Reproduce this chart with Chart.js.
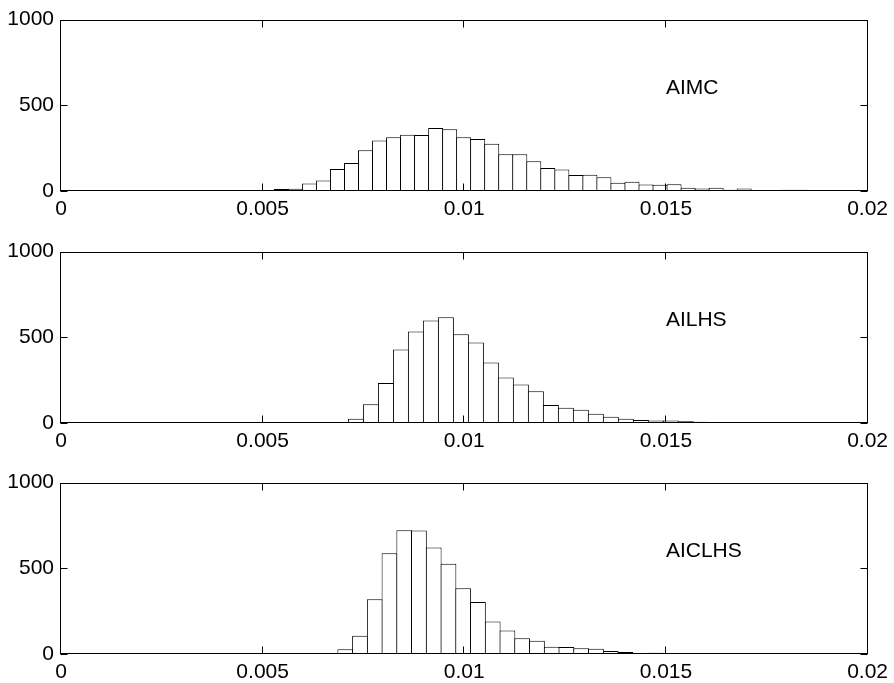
<!DOCTYPE html>
<html lang="en">
<head>
  <meta charset="UTF-8">
  <title>AIMC / AILHS / AICLHS histograms</title>
  <script src="https://cdn.jsdelivr.net/npm/chart.js"></script>
  <style>
    body {
      margin: 0;
      background: #fff;
      overflow: hidden;
    }
    .panel {
      position: absolute;
      left: 0;
    }
  </style>
</head>
<body>
  <canvas id="aimc" class="panel" width="894" height="232" style="top:0px"></canvas>
  <canvas id="ailhs" class="panel" width="894" height="232" style="top:232px"></canvas>
  <canvas id="aiclhs" class="panel" width="894" height="232" style="top:463px"></canvas>

  <script>
    const xTicks = [0, 0.005, 0.01, 0.015, 0.02];
    const yTicks = [0, 500, 1000];

    // bin centres and counts
    const aimcBins = [0.005464, 0.005812, 0.006160, 0.006507, 0.006855, 0.007203, 0.007551, 0.007899,
      0.008246, 0.008594, 0.008942, 0.009290, 0.009638, 0.009985, 0.010333, 0.010681, 0.011029,
      0.011377, 0.011724, 0.012072, 0.012420, 0.012768, 0.013116, 0.013463, 0.013811, 0.014159,
      0.014507, 0.014855, 0.015202, 0.015550, 0.015898, 0.016246, 0.016594, 0.016941, 0.017289,
      0.017637, 0.017985, 0.018333, 0.018680, 0.019028, 0.019376, 0.019724];
    const aimcCounts = [12, 13, 44, 61, 128, 164, 238, 295, 313, 328, 326, 368, 360, 314, 303, 276,
      214, 215, 174, 134, 126, 94, 95, 80, 48, 54, 38, 37, 40, 19, 14, 19, 8, 14, 6, 2, 8, 8, 2, 2, 2, 1];

    const ailhsBins = [0.007313, 0.007685, 0.008057, 0.008429, 0.008800, 0.009172, 0.009544, 0.009916,
      0.010288, 0.010659, 0.011031, 0.011403, 0.011775, 0.012147, 0.012519, 0.012890, 0.013262,
      0.013634, 0.014006, 0.014378, 0.014749, 0.015121, 0.015493, 0.015865, 0.016237, 0.016608,
      0.016980, 0.017352, 0.017724, 0.018096, 0.018467, 0.018839, 0.019211, 0.019583, 0.019955];
    const ailhsCounts = [25, 109, 233, 429, 534, 598, 617, 518, 470, 353, 265, 225, 185, 105, 89, 77,
      54, 37, 25, 17, 14, 14, 10, 7, 5, 3, 2, 4, 3, 2, 1, 6, 1, 0, 2];

    const aiclhsBins = [0.007048, 0.007414, 0.007780, 0.008145, 0.008511, 0.008876, 0.009242, 0.009608,
      0.009974, 0.010339, 0.010705, 0.011070, 0.011436, 0.011802, 0.012168, 0.012533, 0.012899,
      0.013265, 0.013630, 0.013996, 0.014361, 0.014727, 0.015093, 0.015459, 0.015824, 0.016190,
      0.016555, 0.016921, 0.017287, 0.017653, 0.018018, 0.018384, 0.018749, 0.019115, 0.019481, 0.019847];
    const aiclhsCounts = [28, 106, 320, 588, 722, 720, 621, 526, 383, 303, 189, 137, 92, 77, 43, 41,
      34, 30, 17, 11, 6, 8, 3, 3, 3, 2, 6, 3, 1, 1, 0, 1, 1, 0, 1, 0];

    const labelX = 0.015;
    const labelY = 600;

    // MATLAB style box, inward ticks on all four sides and the panel label
    const matlabBox = {
      id: 'matlabBox',
      afterDraw(chart, args, opts) {
        const { ctx, chartArea: a, scales: { x, y } } = chart;
        const snap = v => Math.round(v) + 0.5;
        const L = snap(a.left - 1), R = snap(a.right - 1), T = snap(a.top), B = snap(a.bottom - 1);
        ctx.save();
        ctx.strokeStyle = '#000';
        ctx.lineWidth = 1;
        ctx.strokeRect(L, T, R - L, B - T);
        ctx.beginPath();
        x.ticks.forEach(t => {
          const px = snap(x.getPixelForValue(t.value) - 1);
          ctx.moveTo(px, B); ctx.lineTo(px, B - 7);
          ctx.moveTo(px, T); ctx.lineTo(px, T + 7);
        });
        y.ticks.forEach(t => {
          const py = snap(y.getPixelForValue(t.value));
          ctx.moveTo(L, py); ctx.lineTo(L + 7, py);
          ctx.moveTo(R, py); ctx.lineTo(R - 7, py);
        });
        ctx.stroke();
        ctx.font = '21px "Liberation Sans", Arial, sans-serif';
        ctx.fillStyle = '#000';
        ctx.textAlign = 'left';
        ctx.textBaseline = 'middle';
        ctx.fillText(opts.label, x.getPixelForValue(labelX), y.getPixelForValue(labelY));
        ctx.restore();
      }
    };

    function drawHist(id, label, bins, counts) {
      const ctx = document.getElementById(id).getContext('2d');
      new Chart(ctx, {
        type: 'bar',
        data: {
          datasets: [{
            data: bins.map((b, i) => ({ x: b, y: counts[i] })),
            backgroundColor: '#fff',
            borderColor: '#000',
            borderWidth: 1,
            borderSkipped: 'start',
            inflateAmount: 0,
            // bars overlap by ~1px so neighbouring edges share one line
            barPercentage: 1.07,
            categoryPercentage: 1,
            clip: 0
          }]
        },
        options: {
          responsive: false,
          animation: false,
          layout: { padding: { top: 15.7, left: 0, right: 24, bottom: 0 } },
          plugins: {
            legend: { display: false },
            tooltip: { enabled: false },
            matlabBox: { label: label }
          },
          scales: {
            x: {
              type: 'linear',
              min: 0,
              max: 0.02,
              offset: false,
              grid: { display: false, drawTicks: false, offset: false },
              border: { display: false },
              afterBuildTicks: s => { s.ticks = xTicks.map(v => ({ value: v })); },
              afterFit: s => { s.height = 41; },
              ticks: {
                autoSkip: false,
                maxRotation: 0,
                padding: 6,
                color: '#000',
                font: { family: '"Liberation Sans", Arial, sans-serif', size: 21 },
                callback: v => String(Number(v.toFixed(4)))
              }
            },
            y: {
              min: 0,
              max: 1000,
              grid: { display: false, drawTicks: false },
              border: { display: false },
              afterBuildTicks: s => { s.ticks = yTicks.map(v => ({ value: v })); },
              afterFit: s => { s.width = 61; },
              ticks: {
                padding: 7,
                color: '#000',
                font: { family: '"Liberation Sans", Arial, sans-serif', size: 21 },
                callback: v => String(v)
              }
            }
          }
        },
        plugins: [matlabBox]
      });
    }

    drawHist('aimc', 'AIMC', aimcBins, aimcCounts);
    drawHist('ailhs', 'AILHS', ailhsBins, ailhsCounts);
    drawHist('aiclhs', 'AICLHS', aiclhsBins, aiclhsCounts);
  </script>
</body>
</html>
